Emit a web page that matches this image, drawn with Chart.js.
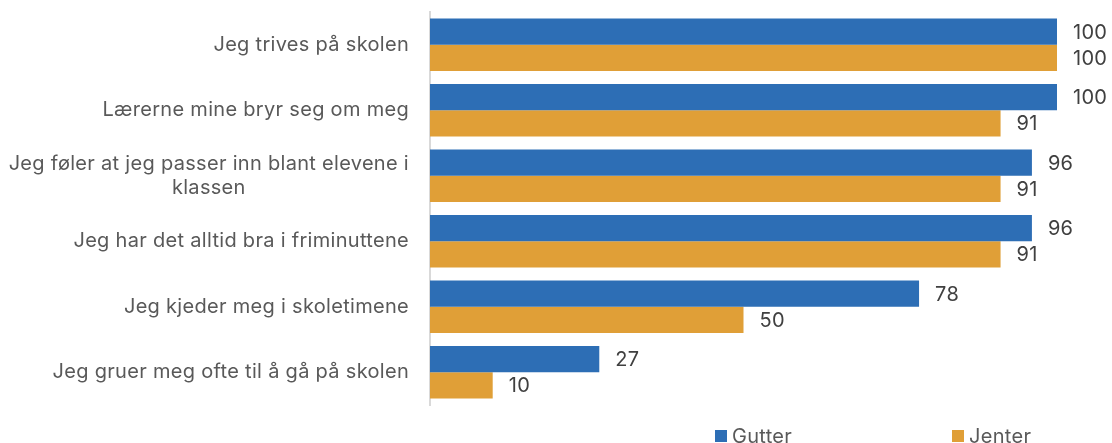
<!DOCTYPE html>
<html><head><meta charset="utf-8">
<script src="https://cdn.jsdelivr.net/npm/chart.js@4"></script>
<style>html,body{margin:0;padding:0;background:#fff}#wrap{position:relative;width:1112px;height:443px}</style>
</head><body><div id="wrap"><canvas id="c" width="1112" height="443"></canvas></div>
<script>
const categories = [
  'Jeg trives på skolen',
  'Lærerne mine bryr seg om meg',
  ['Jeg føler at jeg passer inn blant elevene i', 'klassen'],
  'Jeg har det alltid bra i friminuttene',
  'Jeg kjeder meg i skoletimene',
  'Jeg gruer meg ofte til å gå på skolen'
];
const gutter = [100, 100, 96, 96, 78, 27];
const jenter = [100, 91, 91, 91, 50, 10];
const seriesNames = ['Gutter', 'Jenter'];
const seriesColors = ['#2D6EB5', '#E09F37'];

const FONT = '20px Inter';
const SPACING = '0.3px';

function setFont(ctx) {
  ctx.font = FONT;
  if ('letterSpacing' in ctx) ctx.letterSpacing = SPACING;
}

const yLabelPlugin = {
  id: 'ylabels',
  afterDraw(chart) {
    const ctx = chart.ctx, y = chart.scales.y;
    ctx.save();
    setFont(ctx); ctx.fillStyle = '#595959'; ctx.textBaseline = 'middle'; ctx.textAlign = 'center';
    const right = chart.chartArea.left - 21;
    categories.forEach((lab, i) => {
      const lines = Array.isArray(lab) ? lab : [lab];
      const cy = y.getPixelForValue(i);
      const lh = 24;
      const maxW = Math.max(...lines.map(l => ctx.measureText(l).width));
      lines.forEach((l, j) => {
        ctx.fillText(l, right - maxW / 2, cy + (j - (lines.length - 1) / 2) * lh);
      });
    });
    ctx.restore();
  }
};

const valueLabelPlugin = {
  id: 'vlabels',
  afterDatasetsDraw(chart) {
    const ctx = chart.ctx;
    ctx.save();
    setFont(ctx); ctx.fillStyle = '#404040'; ctx.textBaseline = 'middle'; ctx.textAlign = 'left';
    chart.data.datasets.forEach((ds, di) => {
      chart.getDatasetMeta(di).data.forEach((el, i) => {
        ctx.fillText(String(ds.data[i]), el.x + 16, el.y + 1);
      });
    });
    ctx.restore();
  }
};

const legendPlugin = {
  id: 'customLegend',
  afterDraw(chart) {
    const ctx = chart.ctx;
    const xs = [715, 952];
    ctx.save();
    setFont(ctx); ctx.textBaseline = 'middle'; ctx.textAlign = 'left';
    seriesNames.forEach((n, i) => {
      ctx.fillStyle = seriesColors[i];
      ctx.fillRect(xs[i], 430, 12, 12);
      ctx.fillStyle = '#595959';
      ctx.fillText(n, xs[i] + 17, 437);
    });
    ctx.restore();
  }
};

new Chart(document.getElementById('c'), {
  type: 'bar',
  data: {
    labels: categories,
    datasets: [
      { label: seriesNames[0], data: gutter, backgroundColor: seriesColors[0] },
      { label: seriesNames[1], data: jenter, backgroundColor: seriesColors[1] }
    ]
  },
  options: {
    indexAxis: 'y',
    responsive: false,
    animation: false,
    layout: { padding: { top: 12, right: 55, bottom: 38, left: 0 } },
    datasets: { bar: { categoryPercentage: 0.8, barPercentage: 1.0 } },
    scales: {
      x: { display: false, min: 0, max: 100 },
      y: {
        afterFit(s) { s.width = 430; },
        grid: { display: false, drawTicks: false },
        border: { display: true, color: '#D9D9D9', width: 2 },
        ticks: { display: false }
      }
    },
    plugins: { legend: { display: false }, tooltip: { enabled: false } }
  },
  plugins: [yLabelPlugin, valueLabelPlugin, legendPlugin]
});
</script>
</body></html>
